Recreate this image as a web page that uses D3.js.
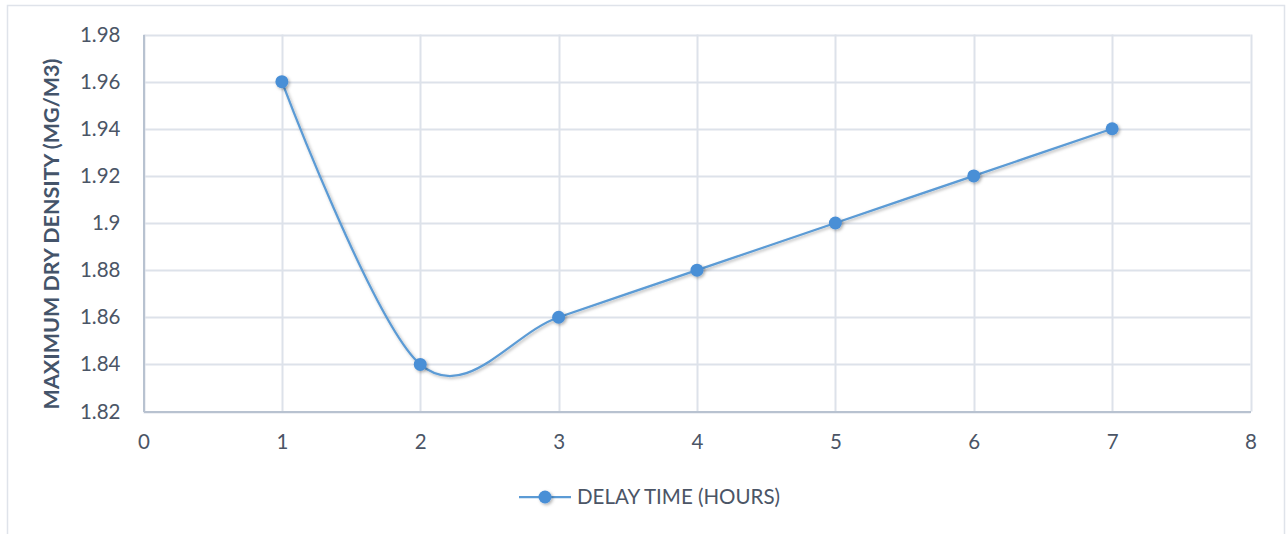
<!DOCTYPE html>
<html>
<head>
<meta charset="utf-8">
<script src="https://cdn.jsdelivr.net/npm/d3@7/dist/d3.min.js"></script>
<style>
  html, body { margin: 0; padding: 0; background: #ffffff; }
  svg { display: block; }
  text { font-family: Lato, "Open Sans", sans-serif; }
</style>
</head>
<body>
<svg id="chart" width="1286" height="534"></svg>
<script>
// Delay time (hours) vs. maximum dry density
const hours = [1, 2, 3, 4, 5, 6, 7];
const density = [1.96, 1.84, 1.86, 1.88, 1.90, 1.92, 1.94];
const xTicks = [0, 1, 2, 3, 4, 5, 6, 7, 8];
const yTicks = [1.82, 1.84, 1.86, 1.88, 1.9, 1.92, 1.94, 1.96, 1.98];
const seriesName = "DELAY TIME (HOURS)";
const yTitle = "MAXIMUM DRY DENSITY (MG/M3)";

const svg = d3.select("#chart");
const W = 1286, H = 534;
const plot = { left: 143.5, right: 1250.5, top: 34.5, bottom: 411.5 };

const lineColor = "#5b9bd5";
const markerColor = "#4a8fd6";
const gridColor = "#dde2ea";
const axisColor = "#b8c2d0";
const textColor = "#4b5566";
const fontSize = 20.5;

// outer frame
svg.append("rect")
  .attr("x", 7.5).attr("y", 5.5)
  .attr("width", W - 9).attr("height", H)
  .attr("fill", "#fff").attr("stroke", "#dfe3ea").attr("stroke-width", 1.5);

const defs = svg.append("defs");
const shadow = defs.append("filter").attr("id", "shadow")
  .attr("x", "-50%").attr("y", "-50%").attr("width", "200%").attr("height", "200%");
shadow.append("feDropShadow")
  .attr("dx", 1.5).attr("dy", 1.5).attr("stdDeviation", 1.5)
  .attr("flood-color", "#000").attr("flood-opacity", 0.3);

const x = d3.scaleLinear().domain([0, 8]).range([plot.left, plot.right]);
const y = d3.scaleLinear().domain([1.82, 1.98]).range([plot.bottom, plot.top]);

// gridlines
svg.append("g")
  .selectAll("line.h").data(yTicks).join("line")
  .attr("x1", plot.left).attr("x2", plot.right)
  .attr("y1", d => Math.round(y(d)) + 0.5).attr("y2", d => Math.round(y(d)) + 0.5)
  .attr("stroke", gridColor).attr("stroke-width", 2);
svg.append("g")
  .selectAll("line.v").data(xTicks).join("line")
  .attr("y1", plot.top).attr("y2", plot.bottom)
  .attr("x1", d => Math.round(x(d)) + 0.5).attr("x2", d => Math.round(x(d)) + 0.5)
  .attr("stroke", gridColor).attr("stroke-width", 2);

// axes
const yAxis = svg.append("g")
  .attr("transform", `translate(${plot.left},0)`)
  .call(d3.axisLeft(y).tickValues(yTicks).tickSize(0).tickPadding(23)
    .tickFormat(d => d3.format("")(+d.toFixed(2))));
yAxis.select(".domain").attr("stroke", axisColor).attr("stroke-width", 2);
yAxis.selectAll("text").attr("fill", textColor).attr("font-size", fontSize);

const xAxis = svg.append("g")
  .attr("transform", `translate(0,${plot.bottom})`)
  .call(d3.axisBottom(x).tickValues(xTicks).tickSize(0).tickPadding(23).tickFormat(d3.format("d")));
xAxis.select(".domain").attr("stroke", axisColor).attr("stroke-width", 2);
xAxis.selectAll("text").attr("fill", textColor).attr("font-size", fontSize);

// y-axis title
svg.append("text")
  .attr("transform", "translate(59,234) rotate(-90)")
  .attr("text-anchor", "middle")
  .attr("font-size", 21.5).attr("font-weight", "bold")
  .attr("fill", "#44546a")
  .text(yTitle);

// smoothed series line
const pts = hours.map((h, i) => [h, density[i]]);
const line = d3.line()
  .x(d => x(d[0])).y(d => y(d[1]))
  .curve(d3.curveCardinal.tension(0));
svg.append("path")
  .datum(pts)
  .attr("d", line)
  .attr("fill", "none")
  .attr("stroke", lineColor)
  .attr("stroke-width", 2.25)
  .attr("filter", "url(#shadow)");

// markers
svg.append("g")
  .selectAll("circle").data(pts).join("circle")
  .attr("cx", d => x(d[0])).attr("cy", d => y(d[1]))
  .attr("r", 6.5)
  .attr("fill", markerColor)
  .attr("filter", "url(#shadow)");

// legend
const lg = svg.append("g").attr("transform", "translate(519,497)");
lg.append("line").attr("x1", 0).attr("x2", 52).attr("y1", 0).attr("y2", 0)
  .attr("stroke", lineColor).attr("stroke-width", 2.25);
lg.append("circle").attr("cx", 26).attr("cy", 0).attr("r", 6.5)
  .attr("fill", markerColor).attr("filter", "url(#shadow)");
lg.append("text").attr("x", 58).attr("y", 0).attr("dy", "0.35em")
  .attr("font-size", fontSize).attr("fill", textColor)
  .text(seriesName);
</script>
</body>
</html>
